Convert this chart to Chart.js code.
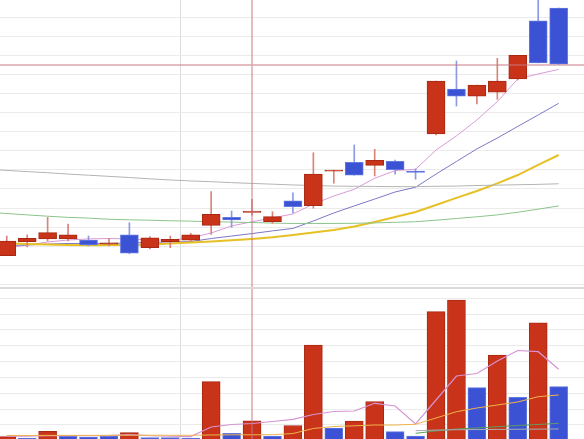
<!doctype html>
<html>

<head>
	<title>Candlestick with volume</title>
	<script src="https://cdn.jsdelivr.net/npm/chart.js@4.4.0/dist/chart.umd.min.js"></script>
	<style>
	body { margin: 0; background: #fff; }
	#wrap { position: relative; width: 584px; height: 439px; overflow: hidden; }
	#price { position: absolute; left: 0; top: 0; }
	#sep { position: absolute; left: 0; top: 287px; width: 584px; height: 2px; background: #dadada; }
	#vol { position: absolute; left: 0; top: 289px; }
	</style>
</head>

<body>
	<div id="wrap">
		<canvas id="price" width="584" height="287"></canvas>
		<div id="sep"></div>
		<canvas id="vol" width="584" height="150"></canvas>
	</div>
	<script>
		// daily candles, left to right (index 0..27)
		var opens  = [11.50, 12.23, 12.38, 12.38, 12.32, 12.10, 12.59, 11.92, 12.23, 12.32, 13.09, 13.51, 13.77, 13.28, 14.38, 14.12, 15.93, 16.40, 16.24, 16.45, 15.94, 17.88, 20.24, 19.86, 20.08, 20.77, 23.81, 24.49];
		var highs  = [12.53, 12.59, 13.51, 13.16, 12.53, 12.41, 13.23, 12.50, 12.53, 12.67, 14.86, 13.84, 14.46, 13.81, 14.79, 16.90, 15.99, 17.31, 17.08, 16.52, 16.05, 20.65, 21.71, 20.45, 21.85, 22.01, 25.43, 24.49];
		var lows   = [11.50, 11.96, 12.27, 12.27, 12.01, 12.01, 11.60, 11.85, 11.92, 12.27, 12.62, 12.99, 13.63, 13.20, 13.74, 13.99, 15.30, 15.72, 15.68, 15.77, 15.51, 17.83, 19.35, 19.46, 19.70, 20.71, 21.61, 21.54];
		var closes = [12.27, 12.41, 12.71, 12.60, 12.06, 12.18, 11.63, 12.44, 12.36, 12.60, 13.67, 13.37, 13.84, 13.55, 14.07, 15.78, 15.99, 15.72, 16.50, 16.01, 15.87, 20.65, 19.86, 20.45, 20.65, 22.01, 21.61, 21.54];

		// price moving averages; first value is the day before index 0
		var ma5  = [11.75, 11.90, 12.06, 12.22, 12.32, 12.38, 12.40, 12.38, 12.32, 12.32, 12.43, 12.69, 13.06, 13.28, 13.48, 13.69, 14.21, 14.63, 14.98, 15.56, 15.96, 16.03, 17.04, 17.78, 18.62, 19.58, 20.77, 21.03, 21.27];
		var ma10 = [12.01, 12.03, 12.06, 12.11, 12.14, 12.14, 12.14, 12.17, 12.19, 12.22, 12.24, 12.40, 12.53, 12.66, 12.80, 12.93, 13.32, 13.74, 14.11, 14.47, 14.84, 15.09, 15.78, 16.44, 17.10, 17.67, 18.28, 18.88, 19.49];
		var ma20 = [12.17, 12.15, 12.11, 12.09, 12.06, 12.05, 12.06, 12.06, 12.09, 12.14, 12.19, 12.24, 12.31, 12.38, 12.47, 12.59, 12.71, 12.85, 13.03, 13.27, 13.53, 13.79, 14.16, 14.53, 14.89, 15.29, 15.73, 16.26, 16.78];
		var ma30 = [13.78, 13.71, 13.64, 13.57, 13.51, 13.47, 13.41, 13.38, 13.36, 13.33, 13.31, 13.28, 13.26, 13.24, 13.21, 13.19, 13.19, 13.19, 13.20, 13.22, 13.25, 13.28, 13.36, 13.45, 13.54, 13.64, 13.78, 13.94, 14.11];
		var ma60 = [16.04, 15.97, 15.91, 15.85, 15.78, 15.72, 15.66, 15.60, 15.53, 15.47, 15.42, 15.38, 15.33, 15.29, 15.25, 15.21, 15.18, 15.15, 15.14, 15.13, 15.12, 15.12, 15.14, 15.15, 15.18, 15.20, 15.22, 15.24, 15.27];

		// volume (index 0..27), 1 = red bar, 0 = blue bar
		var volumes = [261, 179, 602, 306, 242, 306, 514, 211, 211, 179, 3734, 476, 1271, 306, 968, 6051, 811, 1253, 2484, 577, 306, 8153, 8891, 3355, 5419, 2749, 7458, 3418];
		var volRed  = [1, 0, 1, 0, 0, 0, 1, 0, 0, 0, 1, 0, 1, 0, 1, 1, 0, 1, 1, 0, 0, 1, 1, 0, 1, 0, 1, 0];
		var volMa5  = [300, 300, 320, 330, 320, 330, 390, 320, 290, 270, 874, 1032, 1095, 1221, 1360, 1663, 1852, 1884, 2370, 2200, 1063, 2578, 4093, 4251, 5040, 5703, 5628, 4516];
		var volMa20 = [340, 340, 345, 345, 345, 350, 355, 355, 350, 350, 370, 380, 380, 390, 463, 779, 905, 949, 1000, 1000, 1044, 1442, 1840, 2073, 2263, 2452, 2787, 2894];
		var volMa30 = [null, null, null, null, null, null, null, null, null, null, null, null, null, null, null, null, null, null, null, null, 476, 621, 747, 811, 893, 968, 1032, 1107];
		var volMa60 = [null, null, null, null, null, null, null, null, null, null, null, null, null, null, null, null, null, null, null, null, 640, 680, 700, 710, 720, 730, 740, 750];

		var priceGrid = [10, 11, 12, 13, 14, 15, 16, 17, 18, 19, 20, 21, 22, 23, 24];
		var volGrid = [1000, 2000, 3000, 4000, 5000, 6000, 7000, 8000, 9000];
		var monthBreak = 8.5;
		var cursor = { x: 12, price: 21.5 };

		var RED = '#c9331a', RED_EDGE = '#a82812', RED_WICK = '#d8847a';
		var BLUE = '#3b52d4', BLUE_EDGE = '#6479e0', BLUE_WICK = '#8c9ae4';

		var crosshair = {
			id: 'crosshair',
			afterDatasetsDraw: function(chart, args, opts) {
				var ctx = chart.ctx;
				var x = chart.scales.x.getPixelForValue(opts.x);
				ctx.save();
				ctx.strokeStyle = 'rgba(200,120,130,0.65)';
				ctx.lineWidth = 1.5;
				ctx.beginPath();
				ctx.moveTo(x, 0);
				ctx.lineTo(x, chart.height);
				if (opts.y != null) {
					var y = chart.scales.y.getPixelForValue(opts.y);
					ctx.moveTo(0, y);
					ctx.lineTo(chart.width, y);
				}
				ctx.stroke();
				ctx.restore();
			}
		};

		function xAxis() {
			return {
				type: 'linear', min: -0.33, max: 28.24, offset: false,
				ticks: { display: false },
				border: { display: false },
				grid: { color: '#dcdcdc', drawTicks: false, offset: false },
				afterBuildTicks: function(s) { s.ticks = [{ value: monthBreak }]; },
				afterFit: function(s) { s.height = 0; }
			};
		}

		function yAxis(min, max, grid) {
			return {
				min: min, max: max,
				ticks: { display: false },
				border: { display: false },
				grid: { color: '#ebebeb', drawTicks: false },
				afterBuildTicks: function(s) { s.ticks = grid.map(function(v) { return { value: v }; }); },
				afterFit: function(s) { s.width = 0; }
			};
		}

		function lineSet(values, color, width, offset, order) {
			return {
				type: 'line',
				data: values.map(function(v, i) { return { x: i + offset, y: v }; }),
				borderColor: color,
				borderWidth: width,
				pointRadius: 0,
				tension: 0,
				spanGaps: false,
				order: order
			};
		}

		var isRed = closes.map(function(c, i) { return c >= opens[i]; });

		new Chart(document.getElementById('price').getContext('2d'), {
			type: 'bar',
			data: {
				datasets: [{
					label: 'body',
					data: opens.map(function(o, i) { return { x: i, y: [o, closes[i]] }; }),
					backgroundColor: isRed.map(function(r) { return r ? RED : BLUE; }),
					borderColor: isRed.map(function(r) { return r ? RED_EDGE : BLUE_EDGE; }),
					borderWidth: 1,
					borderSkipped: false,
					barThickness: 18,
					grouped: false,
					order: 0
				}, {
					label: 'wick',
					data: lows.map(function(l, i) { return { x: i, y: [l, highs[i]] }; }),
					backgroundColor: isRed.map(function(r) { return r ? RED_WICK : BLUE_WICK; }),
					borderWidth: 0,
					barThickness: 1,
					grouped: false,
					order: 1
				},
				lineSet(ma60, '#b4b4b4', 1, -1, 2),
				lineSet(ma30, '#8cc48c', 1, -1, 2),
				lineSet(ma20, '#e6c024', 2, -1, 2),
				lineSet(ma10, '#7c78c4', 1, -1, 2),
				lineSet(ma5, '#d99bd6', 1, -1, 2)]
			},
			options: {
				responsive: false,
				animation: false,
				layout: { padding: 0 },
				plugins: { legend: { display: false }, tooltip: { enabled: false }, crosshair: { x: cursor.x, y: cursor.price } },
				scales: { x: xAxis(), y: yAxis(9.858, 24.908, priceGrid) }
			},
			plugins: [crosshair]
		});

		new Chart(document.getElementById('vol').getContext('2d'), {
			type: 'bar',
			data: {
				datasets: [
				lineSet(volMa60, '#a8aeb4', 1, 0, 0),
				lineSet(volMa30, '#5e9c5e', 1, 0, 0),
				lineSet(volMa20, '#efb44c', 1, 0, 0),
				lineSet(volMa5, '#d594d4', 1.2, 0, 0),
				{
					label: 'volume',
					data: volumes.map(function(v, i) { return { x: i, y: v }; }),
					backgroundColor: volRed.map(function(r) { return r ? RED : BLUE; }),
					borderColor: volRed.map(function(r) { return r ? RED_EDGE : BLUE_EDGE; }),
					borderWidth: 1,
					borderSkipped: false,
					barThickness: 18,
					grouped: false,
					order: 1
				}]
			},
			options: {
				responsive: false,
				animation: false,
				layout: { padding: 0 },
				plugins: { legend: { display: false }, tooltip: { enabled: false }, crosshair: { x: cursor.x } },
				scales: { x: xAxis(), y: yAxis(116, 9586, volGrid) }
			},
			plugins: [crosshair]
		});
	</script>
</body>

</html>
